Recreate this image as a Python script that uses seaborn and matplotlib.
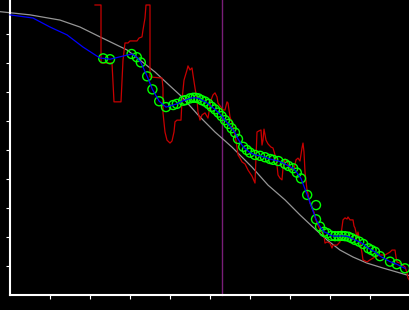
import matplotlib
matplotlib.use("Agg")
import matplotlib.pyplot as plt
import seaborn as sns
import numpy as np
import pandas as pd

# ---- data (axis units: x 0..100, y 0..100) ----
gray_x = [-2.5, 5, 12.5, 17.5, 22.5, 29.25, 32.5, 36.25, 40, 43, 47, 51.25, 55.5, 60.5,
          64.5, 68.75, 72.5, 75.75, 79.25, 82.5, 85.75, 89.25, 93.25, 97.5, 100]
gray_y = [97.7, 96.6, 94.8, 92.4, 89.0, 84.5, 81.0, 76.9, 72.1, 68.3, 62.1, 56.2, 51.0, 44.1,
          37.9, 32.8, 27.6, 23.4, 19.0, 15.5, 13.1, 11.0, 9.3, 7.6, 6.6]

lead_x = [0, 5.75, 10, 14.25, 18.25, 22.5]
lead_y = [96.6, 95.5, 92.4, 89.7, 85.5, 81.7]

pts_x = [23.3, 25, 30.4, 31.7, 32.7, 34.3, 35.6, 37.3, 39, 40.8, 41.7, 43.3, 43.9, 45, 45.8,
         46.4, 47.1, 47.9, 48.75, 49.6, 50.4, 51.25, 52.1, 52.9, 53.75, 54.6, 55.4, 56.25, 57,
         58.3, 59.2, 60, 61.25, 62.5, 63.75, 65, 65.8, 67.1, 68.75, 69.6, 70.8, 71.7, 72.75,
         74.3, 76.5, 77.5, 78.5, 79.3, 80.4, 81.25, 82.1, 82.9, 83.75, 84.6, 85.4, 86.25, 87.3,
         88.3, 89.6, 90.4, 91.25, 92.5, 95, 96.7, 98.75]
pts_y = [81.6, 81.3, 83.1, 82.0, 80.2, 75.4, 70.9, 66.8, 64.8, 65.5, 65.9, 67.0, 67.2, 67.8, 68.0,
         68.0, 67.8, 67.2, 66.7, 65.9, 64.9, 64.0, 62.9, 61.7, 60.3, 59.0, 57.5, 56.0, 53.8,
         51.1, 50.0, 49.1, 48.3, 48.0, 47.5, 46.9, 46.6, 46.2, 45.2, 44.5, 43.7, 42.2, 40.2,
         34.5, 26.1, 23.6, 21.8, 21.3, 20.4, 20.3, 20.3, 20.4, 20.3, 20.1, 19.6, 19.0, 18.4,
         17.6, 16.1, 15.5, 14.9, 13.4, 11.5, 10.6, 9.2]
outlier_x = [76.5]
outlier_y = [31.0]

red_x = [21.25, 22.75, 22.75, 25.5, 26.0, 27.75, 28.25, 28.75, 29.5, 30.0, 31.75, 32.25, 33.0,
         33.25, 33.75, 34.0, 35.0, 35.0, 38.0, 38.25, 38.25, 38.75, 39.25, 40.0, 40.5, 41.0,
         41.25, 41.75, 42.75, 43.0, 43.5, 44.25, 44.5, 45.0, 45.5, 45.75, 46.25, 46.75, 47.0,
         47.5, 48.0, 48.75, 49.5, 50.25, 50.75, 51.25, 51.75, 52.0, 52.75, 53.25, 53.75, 54.25,
         54.5, 55.0, 55.5, 55.75, 56.25, 56.75, 57.0, 57.5, 58.0, 58.75, 59.5, 60.5, 61.25,
         61.5, 61.75, 62.25, 62.75, 63.0, 63.25, 63.5, 64.0, 64.5, 65.25, 65.75, 66.25, 66.75,
         67.0, 67.5, 68.0, 68.25, 68.75, 69.25, 69.75, 70.5, 71.0, 71.5, 72.0, 72.5, 73.0,
         73.25, 73.5, 73.75, 74.25, 75.0, 75.5, 76.0, 76.25, 76.75, 77.5, 78.0, 78.5, 78.75,
         79.25, 80.0, 80.5, 80.75, 81.75, 82.5, 83.25, 83.75, 84.25, 84.5, 85.0, 85.75, 86.0,
         86.25, 86.75, 87.0, 87.5, 88.0, 88.25, 89.25, 90.0, 91.25, 92.5, 93.75, 95.0, 95.5,
         96.25, 96.5, 96.75, 97.5, 98.75, 99.25, 99.5, 100.0]
red_y = [100, 100, 80.0, 80.0, 66.6, 66.6, 81.0, 86.9, 86.9, 87.6, 87.6, 88.6, 89.0,
         91.4, 95.5, 100, 100, 75.2, 74.8, 71.4, 62.8, 56.2, 53.4, 52.4, 53.1, 56.2,
         59.7, 60.3, 60.3, 67.2, 74.1, 77.6, 79.0, 77.6, 78.3, 75.9, 71.4, 67.2, 63.1,
         60.3, 62.1, 62.8, 61.0, 67.2, 69.0, 69.7, 68.3, 66.2, 64.8, 63.8, 63.8, 66.6,
         66.2, 61.4, 59.3, 57.9, 55.2, 51.0, 48.3, 47.2, 45.9, 45.2, 43.1, 41.0, 38.6,
         47.6, 56.2, 56.6, 56.9, 51.7, 53.4, 57.2, 53.4, 52.1, 51.0, 50.7, 48.3, 44.8,
         41.4, 40.3, 39.7, 43.8, 46.9, 46.2, 44.1, 43.1, 43.4, 46.6, 47.2, 46.2, 50.7,
         52.4, 49.3, 42.4, 36.2, 31.7, 30.0, 28.6, 26.9, 24.8, 22.4, 21.4, 20.7, 17.9,
         18.3, 17.9, 16.2, 17.2, 17.2, 18.3, 25.9, 26.6, 26.2, 26.9, 25.9, 25.9, 23.8,
         23.1, 20.0, 21.7, 18.3, 14.5, 12.1, 11.4, 12.1, 13.1, 13.8, 13.8, 14.8, 15.5,
         15.5, 13.1, 11.4, 11.0, 9.7, 7.6, 5.9, 4.8]

vline_x = 53.0
ticks = [10, 20, 30, 40, 50, 60, 70, 80, 90]

# ---- figure ----
fig = plt.figure(figsize=(4.1, 3.1), dpi=100, facecolor="black")
ax = fig.add_axes([0, 0, 1, 1])
ax.set_facecolor("black")
ymin, ymax = -5.17, 101.72
ax.set_xlim(-2.5, 100)
ax.set_ylim(ymin, ymax)

blue_x = lead_x + pts_x
blue_y = lead_y + pts_y

sns.lineplot(x=gray_x, y=gray_y, ax=ax, color="#969696", linewidth=0.9,
             sort=False, estimator=None, zorder=2)
ax.axvline(vline_x, ymin=-ymin / (ymax - ymin), ymax=1, color="#781e78", linewidth=1.0, zorder=1)
sns.lineplot(x=red_x, y=red_y, ax=ax, color="#c80000", linewidth=0.9,
             sort=False, estimator=None, zorder=3)
sns.scatterplot(x=pts_x + outlier_x, y=pts_y + outlier_y, ax=ax, marker="o", s=42,
                facecolors="none", edgecolors="#00ff00", linewidths=1.0, zorder=4)
sns.lineplot(x=blue_x, y=blue_y, ax=ax, color="#0000ff", linewidth=0.9,
             sort=False, estimator=None, zorder=5)

for side in ["top", "right"]:
    ax.spines[side].set_visible(False)
for side in ["left", "bottom"]:
    ax.spines[side].set_position(("data", 0))
    ax.spines[side].set_color("white")
    ax.spines[side].set_linewidth(1.5)
ax.spines["left"].set_bounds(0, ymax)
ax.spines["bottom"].set_bounds(0, 100)
ax.set_xticks(ticks)
ax.set_yticks(ticks)
ax.set_xticklabels([])
ax.set_yticklabels([])
ax.tick_params(axis="both", direction="out", length=2.6, width=0.8, color="white")

fig.savefig("out.png", dpi=100, facecolor="black")
